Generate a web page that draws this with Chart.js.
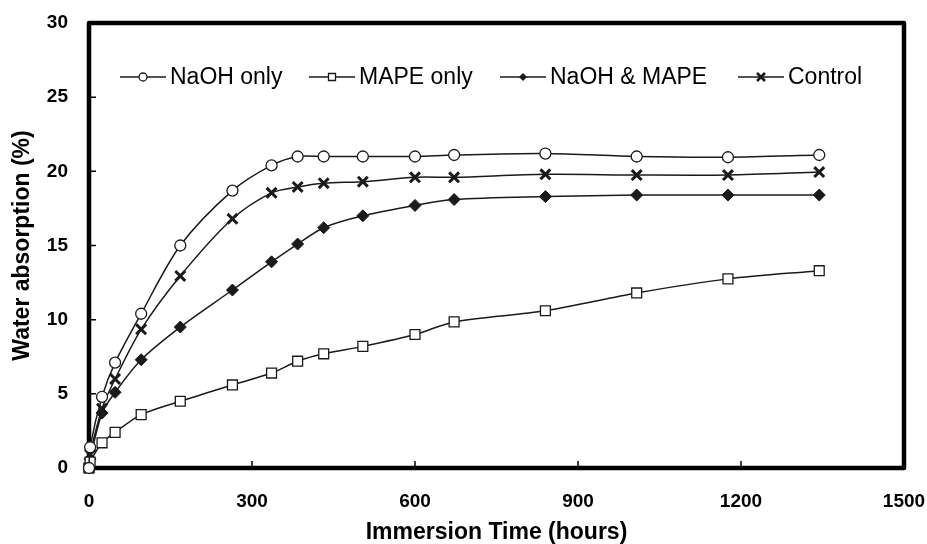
<!DOCTYPE html>
<html>
<head>
<meta charset="utf-8">
<script src="https://cdn.jsdelivr.net/npm/chart.js@4.4.0/dist/chart.umd.min.js"></script>
<style>
html, body { margin: 0; padding: 0; background: #fff; }
</style>
</head>
<body>
<canvas id="absorption" width="927" height="544"></canvas>
<script>
// immersion time (hours) and water absorption (%) per treatment
var hours    = [0, 2, 24, 48, 96, 168, 264, 336, 384, 432, 504, 600, 672, 840, 1008, 1176, 1344];
var naohOnly = [0, 1.4, 4.8, 7.1, 10.4, 15.0, 18.7, 20.4, 21.0, 21.0, 21.0, 21.0, 21.1, 21.2, 21.0, 20.95, 21.1];
var mapeOnly = [0, 0.4, 1.7, 2.4, 3.6, 4.5, 5.6, 6.4, 7.2, 7.7, 8.2, 9.0, 9.85, 10.6, 11.8, 12.75, 13.3];
var naohMape = [0, 0.6, 3.7, 5.1, 7.3, 9.5, 12.0, 13.9, 15.1, 16.2, 17.0, 17.7, 18.1, 18.3, 18.4, 18.4, 18.4];
var control  = [0, 0.9, 4.0, 6.0, 9.35, 12.95, 16.8, 18.55, 18.95, 19.2, 19.3, 19.6, 19.6, 19.8, 19.75, 19.75, 19.95];

var seriesNames = ['NaOH only', 'MAPE only', 'NaOH & MAPE', 'Control'];
var xTickStep = 300, xMax = 1500;
var yTickStep = 5, yMax = 30;

function pts(ys) {
	return hours.map(function(h, i){ return {x: h, y: ys[i]}; });
}

var ink = '#1a1a1a';

function series(label, ys, style, r, fill, bw) {
	return {
		label: label,
		data: pts(ys),
		borderColor: ink,
		borderWidth: 1.5,
		tension: 0.3,
		pointStyle: style,
		pointRadius: r,
		pointBackgroundColor: fill,
		pointBorderColor: ink,
		pointBorderWidth: bw,
		clip: false
	};
}

function drawMark(ctx, style, x, y, r) {
	ctx.beginPath();
	if (style == 'circle') {
		ctx.arc(x, y, r, 0, Math.PI * 2);
		ctx.fillStyle = '#fff'; ctx.fill(); ctx.lineWidth = 1.3; ctx.stroke();
	} else if (style == 'rect') {
		ctx.rect(x - r, y - r, r * 2, r * 2);
		ctx.fillStyle = '#fff'; ctx.fill(); ctx.lineWidth = 1.3; ctx.stroke();
	} else if (style == 'rectRot') {
		ctx.moveTo(x, y - r); ctx.lineTo(x + r, y); ctx.lineTo(x, y + r); ctx.lineTo(x - r, y);
		ctx.closePath(); ctx.fillStyle = ink; ctx.fill();
	} else {
		ctx.moveTo(x - r, y - r); ctx.lineTo(x + r, y + r);
		ctx.moveTo(x + r, y - r); ctx.lineTo(x - r, y + r);
		ctx.lineWidth = 2.6; ctx.stroke();
	}
}

// frame round the plot and inward tick marks
var frame = {
	id: 'frame',
	beforeDatasetsDraw: function(chart) {
		var ctx = chart.ctx, a = chart.chartArea;
		var xs = chart.scales.x, ys = chart.scales.y;
		ctx.save();
		ctx.strokeStyle = '#000';
		ctx.lineWidth = 1.5;
		ctx.beginPath();
		xs.ticks.forEach(function(t){
			var px = xs.getPixelForValue(t.value);
			ctx.moveTo(px, a.bottom); ctx.lineTo(px, a.bottom - 7);
		});
		ys.ticks.forEach(function(t){
			var py = ys.getPixelForValue(t.value);
			ctx.moveTo(a.left, py); ctx.lineTo(a.left + 7, py);
		});
		ctx.stroke();
		ctx.lineWidth = 4.5;
		ctx.lineJoin = 'round';
		ctx.strokeRect(a.left, a.top, a.right - a.left, a.bottom - a.top);
		ctx.restore();
	}
};

// legend inside the plot: short line with the marker in its middle
var lineLegend = {
	id: 'lineLegend',
	afterDatasetsDraw: function(chart) {
		var ctx = chart.ctx;
		var starts = [120, 309, 500, 738];
		var y = 77;
		ctx.save();
		ctx.font = '23px "Liberation Sans", Arial, sans-serif';
		ctx.textBaseline = 'middle';
		chart.data.datasets.forEach(function(ds, i){
			var x = starts[i];
			ctx.strokeStyle = ink;
			ctx.lineWidth = 1.5;
			ctx.beginPath(); ctx.moveTo(x, y); ctx.lineTo(x + 46, y); ctx.stroke();
			drawMark(ctx, ds.pointStyle, x + 23, y, ds.pointStyle == 'rect' ? 3.5 : 4);
			ctx.fillStyle = '#000';
			ctx.fillText(ds.label, x + 50, y + 1);
		});
		ctx.restore();
	}
};

var tickFont = {family: '"Liberation Sans", Arial, sans-serif', size: 19, weight: 'bold'};
var titleFont = {family: '"Liberation Sans", Arial, sans-serif', size: 23, weight: 'bold', lineHeight: 1.0};

var config_absorption = {
	type: 'line',
	data: {
		datasets: [
			series(seriesNames[0], naohOnly, 'circle', 5.5, '#fff', 1.3),
			series(seriesNames[1], mapeOnly, 'rect', 7, '#fff', 1.3),
			series(seriesNames[2], naohMape, 'rectRot', 6, ink, 1),
			series(seriesNames[3], control, 'crossRot', 7, ink, 3)
		]
	},
	options: {
		responsive: false,
		animation: false,
		devicePixelRatio: 1,
		layout: { padding: {left: 8, top: 23, right: 23, bottom: 0} },
		plugins: { legend: {display: false}, tooltip: {enabled: false} },
		scales: {
			x: {
				type: 'linear',
				min: 0, max: xMax,
				grid: {display: false, drawTicks: false},
				border: {display: false},
				ticks: {stepSize: xTickStep, font: tickFont, color: '#000', padding: 22, maxRotation: 0,
					callback: function(v){ return String(v); }},
				title: {display: true, text: 'Immersion Time (hours)', font: titleFont, color: '#000', padding: 0},
				afterFit: function(s){ s.height = 76; s.paddingLeft = 0; s.paddingRight = 0; }
			},
			y: {
				min: 0, max: yMax,
				grid: {display: false, drawTicks: false},
				border: {display: false},
				ticks: {stepSize: yTickStep, font: tickFont, color: '#000', padding: 21,
					callback: function(v){ return String(v); }},
				title: {display: true, text: 'Water absorption (%)', font: titleFont, color: '#000', padding: {top: 3, bottom: 0}},
				afterFit: function(s){ s.width = 81; s.paddingTop = 0; s.paddingBottom = 0; }
			}
		}
	},
	plugins: [frame, lineLegend]
};

window.onload = function() {
	var ctx = document.getElementById('absorption').getContext('2d');
	window.absorptionChart = new Chart(ctx, config_absorption);
};
</script>
</body>
</html>
